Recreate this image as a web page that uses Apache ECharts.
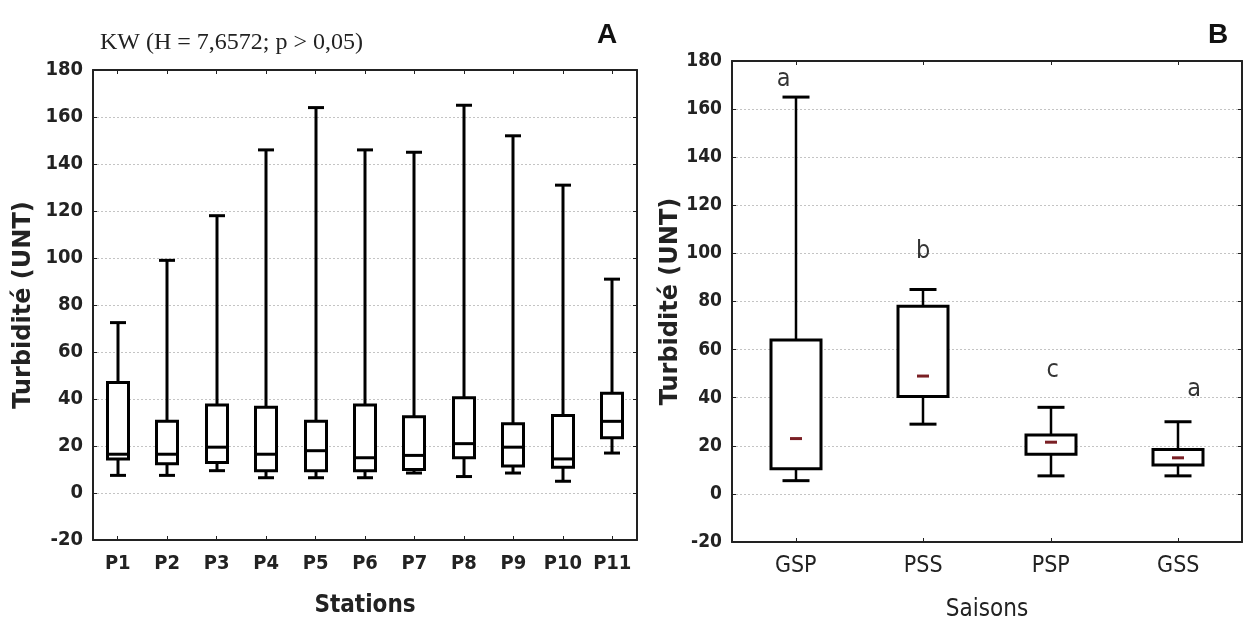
<!DOCTYPE html>
<html>
<head>
<meta charset="utf-8">
<script src="https://cdn.jsdelivr.net/npm/echarts@6/dist/echarts.min.js"></script>
<style>html,body{margin:0;padding:0;background:#fff;}#c{width:1251px;height:625px;}</style>
</head>
<body>
<div id="c"></div>
<script>
// ---- Data ----
const stations = ['P1','P2','P3','P4','P5','P6','P7','P8','P9','P10','P11'];
// [min, Q1, median, Q3, max]
const stationLow  = [7.5, 7.5, 9.5, 6.5, 6.5, 6.5, 8.5, 7, 8.5, 5, 17];
const stationQ1   = [14.5, 12.5, 13, 9.5, 9.5, 9.5, 10, 15, 11.5, 11, 23.5];
const stationMed  = [16.5, 16.5, 19.5, 16.5, 18, 15, 16, 21, 19.5, 14.5, 30.5];
const stationQ3   = [47, 30.5, 37.5, 36.5, 30.5, 37.5, 32.5, 40.5, 29.5, 33, 42.5];
const stationHigh = [72.5, 99, 118, 146, 164, 146, 145, 165, 152, 131, 91];

const seasons = ['GSP','PSS','PSP','GSS'];
const seasonLow  = [5.5, 29, 7.5, 7.5];
const seasonQ1   = [10.5, 40.5, 16.5, 12];
const seasonMed  = [23, 49, 21.5, 15];
const seasonQ3   = [64, 78, 24.5, 18.5];
const seasonHigh = [165, 85, 36, 30];
const seasonLetters = ['a','b','c','a'];

const yTicks = {min: -20, max: 180, interval: 20};
const titleA = 'KW (H = 7,6572; p > 0,05)';

// ---- Build ----
function rows(low,q1,med,q3,high){return low.map((v,i)=>[i,v,q1[i],med[i],q3[i],high[i]]);}

function makeRender(boxW, capW, lw, wlw, median){
  return function(params, api){
    const i = api.value(0);
    const pL = api.coord([i, api.value(1)]);
    const p1 = api.coord([i, api.value(2)]);
    const pM = api.coord([i, api.value(3)]);
    const p3 = api.coord([i, api.value(4)]);
    const pH = api.coord([i, api.value(5)]);
    const x = Math.round(pL[0]);
    const ln = {stroke:'#000', lineWidth:wlw};
    const ch = [
      {type:'line', shape:{x1:x,y1:pH[1],x2:x,y2:p3[1]}, style:ln},
      {type:'line', shape:{x1:x,y1:p1[1],x2:x,y2:pL[1]}, style:ln},
      {type:'line', shape:{x1:x-capW/2,y1:pH[1],x2:x+capW/2,y2:pH[1]}, style:{stroke:'#000',lineWidth:lw}},
      {type:'line', shape:{x1:x-capW/2,y1:pL[1],x2:x+capW/2,y2:pL[1]}, style:{stroke:'#000',lineWidth:lw}},
      {type:'rect', shape:{x:x-boxW/2,y:p3[1],width:boxW,height:p1[1]-p3[1]}, style:{fill:'#fff',stroke:'#000',lineWidth:lw}}
    ];
    if(median==='line'){
      ch.push({type:'line', shape:{x1:x-boxW/2,y1:pM[1],x2:x+boxW/2,y2:pM[1]}, style:{stroke:'#000',lineWidth:lw}});
    } else {
      ch.push({type:'rect', shape:{x:x-6,y:pM[1]-1.5,width:12,height:3}, style:{fill:'#7a1f24'}});
    }
    return {type:'group', children:ch};
  };
}

const narrow = "'DejaVu Sans Condensed','Liberation Sans',sans-serif";
const gridLine = {show:true, lineStyle:{color:'#c4c4c4', type:[2,2], width:1}};
const frame = {show:true, onZero:false, lineStyle:{color:'#222', width:2}};

function yAxis(gi, nameGap, lblSize){
  return {type:'value', gridIndex:gi, min:yTicks.min, max:yTicks.max, interval:yTicks.interval,
    name:'Turbidité (UNT)', nameLocation:'middle', nameGap:nameGap,
    nameTextStyle:{fontFamily:'DejaVu Sans', fontWeight:'bold', fontSize:24, color:'#222'},
    axisLine:frame, axisTick:{show:true, inside:true, length:4, lineStyle:{color:'#222'}},
    axisLabel:{fontFamily:narrow, fontWeight:'bold', fontSize:lblSize, color:'#222', margin:10},
    splitLine:gridLine};
}
function yAxisR(gi){
  return {type:'value', gridIndex:gi, position:'right', min:yTicks.min, max:yTicks.max, interval:yTicks.interval,
    axisLine:frame, axisTick:{show:true, inside:true, length:4, lineStyle:{color:'#222'}},
    axisLabel:{show:false}, splitLine:{show:false}};
}
function xTop(gi, data){
  return {type:'category', gridIndex:gi, data:data, position:'top',
    axisLine:frame, axisTick:{show:true, inside:true, alignWithLabel:true, length:4, lineStyle:{color:'#222'}},
    axisLabel:{show:false}, splitLine:{show:false}};
}

const option = {
  animation:false,
  backgroundColor:'#fff',
  title:[
    {text:titleA, left:95, top:26, textStyle:{fontFamily:'Liberation Serif', fontWeight:'normal', fontSize:24, color:'#222'}},
    {text:'A', left:592, top:16, textStyle:{fontFamily:'Liberation Sans', fontWeight:'bold', fontSize:28, color:'#111'}},
    {text:'B', left:1203, top:16, textStyle:{fontFamily:'Liberation Sans', fontWeight:'bold', fontSize:28, color:'#111'}}
  ],
  grid:[
    {left:93, top:70, width:544, height:470, outerBoundsMode:'none', containLabel:false},
    {left:732, top:61, width:510, height:481, outerBoundsMode:'none', containLabel:false}
  ],
  xAxis:[
    {type:'category', gridIndex:0, data:stations, name:'Stations', nameLocation:'middle', nameGap:54,
      nameTextStyle:{fontFamily:narrow, fontWeight:'bold', fontSize:24, color:'#222'},
      axisLine:frame, axisTick:{show:true, inside:true, alignWithLabel:true, length:4, lineStyle:{color:'#222'}},
      axisLabel:{interval:0, fontFamily:narrow, fontWeight:'bold', fontSize:20, color:'#222', margin:14}, splitLine:{show:false}},
    {type:'category', gridIndex:1, data:seasons, name:'Saisons', nameLocation:'middle', nameGap:56,
      nameTextStyle:{fontFamily:narrow, fontSize:24, color:'#222'},
      axisLine:frame, axisTick:{show:true, inside:true, alignWithLabel:true, length:4, lineStyle:{color:'#222'}},
      axisLabel:{interval:0, fontFamily:narrow, fontSize:23, color:'#222', margin:13}, splitLine:{show:false}},
    xTop(0, stations), xTop(1, seasons)
  ],
  yAxis:[ yAxis(0, 57, 20), yAxis(1, 48, 19), yAxisR(0), yAxisR(1) ],
  series:[
    {type:'custom', xAxisIndex:0, yAxisIndex:0, renderItem:makeRender(21, 16, 3, 3, 'line'),
      data:rows(stationLow,stationQ1,stationMed,stationQ3,stationHigh), encode:{x:0, y:[1,2,3,4,5]}, z:5},
    {type:'custom', xAxisIndex:1, yAxisIndex:1, renderItem:makeRender(50, 27, 3, 2.5, 'dash'),
      data:rows(seasonLow,seasonQ1,seasonMed,seasonQ3,seasonHigh), encode:{x:0, y:[1,2,3,4,5]}, z:5},
    {type:'scatter', xAxisIndex:1, yAxisIndex:1, symbolSize:0, z:6,
      data:seasonHigh.map((v,i)=>{
        const off = [[-12,-18],[0,-38],[2,-37],[16,-32]][i];
        return {value:[i,v], label:{offset:off}};
      }),
      label:{show:true, position:'inside', formatter:p=>seasonLetters[p.dataIndex],
        fontFamily:narrow, fontSize:25, color:'#000'}}
  ]
};
const chart = echarts.init(document.getElementById('c'), null, {renderer:'canvas'});
chart.setOption(option);
</script>
</body>
</html>
